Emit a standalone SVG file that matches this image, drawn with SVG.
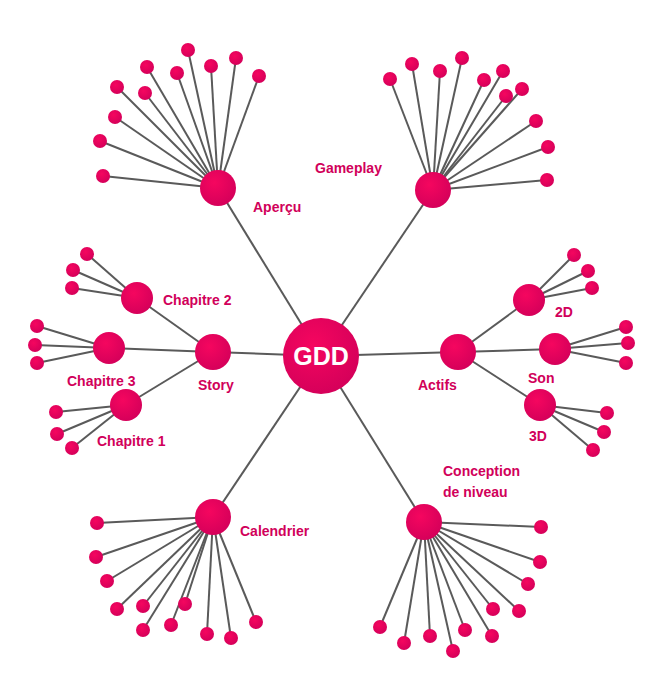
<svg xmlns="http://www.w3.org/2000/svg" width="660" height="700" viewBox="0 0 660 700">
<defs>
<radialGradient id="g" cx="40%" cy="35%" r="65%"><stop offset="0" stop-color="#f5065f"/><stop offset="1" stop-color="#d6005a"/></radialGradient>
<style>
.c line{stroke:#5a5a5a;stroke-width:2}
circle{fill:url(#g)}
text{font-family:"Liberation Sans",Arial,sans-serif;font-weight:bold;font-size:14px;fill:#d1005a}
.t{fill:#fff;font-size:25px;text-anchor:middle}
</style>
</defs>
<rect width="660" height="700" fill="#fff"/>
<g class="c">
<line x1="321" y1="356" x2="218" y2="188"/><line x1="321" y1="356" x2="433" y2="190"/>
<line x1="321" y1="356" x2="213" y2="352"/><line x1="321" y1="356" x2="458" y2="352"/>
<line x1="321" y1="356" x2="213" y2="517"/><line x1="321" y1="356" x2="424" y2="522"/>
<line x1="218" y1="188" x2="188" y2="50"/><line x1="218" y1="188" x2="236" y2="58"/><line x1="218" y1="188" x2="211" y2="66"/><line x1="218" y1="188" x2="147" y2="67"/><line x1="218" y1="188" x2="259" y2="76"/><line x1="218" y1="188" x2="177" y2="73"/><line x1="218" y1="188" x2="117" y2="87"/><line x1="218" y1="188" x2="145" y2="93"/><line x1="218" y1="188" x2="115" y2="117"/><line x1="218" y1="188" x2="100" y2="141"/><line x1="218" y1="188" x2="103" y2="176"/>
<line x1="433" y1="190" x2="390" y2="79"/><line x1="433" y1="190" x2="412" y2="64"/><line x1="433" y1="190" x2="440" y2="71"/><line x1="433" y1="190" x2="462" y2="58"/><line x1="433" y1="190" x2="484" y2="80"/><line x1="433" y1="190" x2="503" y2="71"/><line x1="433" y1="190" x2="506" y2="96"/><line x1="433" y1="190" x2="522" y2="89"/><line x1="433" y1="190" x2="536" y2="121"/><line x1="433" y1="190" x2="548" y2="147"/><line x1="433" y1="190" x2="547" y2="180"/>
<line x1="213" y1="352" x2="137" y2="298"/><line x1="213" y1="352" x2="109" y2="348"/><line x1="213" y1="352" x2="126" y2="405"/>
<line x1="137" y1="298" x2="87" y2="254"/><line x1="137" y1="298" x2="73" y2="270"/><line x1="137" y1="298" x2="72" y2="288"/>
<line x1="109" y1="348" x2="37" y2="326"/><line x1="109" y1="348" x2="35" y2="345"/><line x1="109" y1="348" x2="37" y2="363"/>
<line x1="126" y1="405" x2="56" y2="412"/><line x1="126" y1="405" x2="57" y2="434"/><line x1="126" y1="405" x2="72" y2="448"/>
<line x1="458" y1="352" x2="529" y2="300"/><line x1="458" y1="352" x2="555" y2="349"/><line x1="458" y1="352" x2="540" y2="405"/>
<line x1="529" y1="300" x2="574" y2="255"/><line x1="529" y1="300" x2="588" y2="271"/><line x1="529" y1="300" x2="592" y2="288"/>
<line x1="555" y1="349" x2="626" y2="327"/><line x1="555" y1="349" x2="628" y2="343"/><line x1="555" y1="349" x2="626" y2="363"/>
<line x1="540" y1="405" x2="607" y2="413"/><line x1="540" y1="405" x2="604" y2="432"/><line x1="540" y1="405" x2="593" y2="450"/>
<line x1="213" y1="517" x2="97" y2="523"/><line x1="213" y1="517" x2="96" y2="557"/><line x1="213" y1="517" x2="107" y2="581"/><line x1="213" y1="517" x2="117" y2="609"/><line x1="213" y1="517" x2="143" y2="606"/><line x1="213" y1="517" x2="143" y2="630"/><line x1="213" y1="517" x2="171" y2="625"/><line x1="213" y1="517" x2="185" y2="604"/><line x1="213" y1="517" x2="207" y2="634"/><line x1="213" y1="517" x2="231" y2="638"/><line x1="213" y1="517" x2="256" y2="622"/>
<line x1="424" y1="522" x2="541" y2="527"/><line x1="424" y1="522" x2="540" y2="562"/><line x1="424" y1="522" x2="528" y2="584"/><line x1="424" y1="522" x2="519" y2="611"/><line x1="424" y1="522" x2="493" y2="609"/><line x1="424" y1="522" x2="492" y2="636"/><line x1="424" y1="522" x2="465" y2="630"/><line x1="424" y1="522" x2="453" y2="651"/><line x1="424" y1="522" x2="430" y2="636"/><line x1="424" y1="522" x2="404" y2="643"/><line x1="424" y1="522" x2="380" y2="627"/>
</g>
<g id="leaves">
<circle cx="188" cy="50" r="7"/><circle cx="236" cy="58" r="7"/><circle cx="211" cy="66" r="7"/><circle cx="147" cy="67" r="7"/><circle cx="259" cy="76" r="7"/><circle cx="177" cy="73" r="7"/><circle cx="117" cy="87" r="7"/><circle cx="145" cy="93" r="7"/><circle cx="115" cy="117" r="7"/><circle cx="100" cy="141" r="7"/><circle cx="103" cy="176" r="7"/>
<circle cx="390" cy="79" r="7"/><circle cx="412" cy="64" r="7"/><circle cx="440" cy="71" r="7"/><circle cx="462" cy="58" r="7"/><circle cx="484" cy="80" r="7"/><circle cx="503" cy="71" r="7"/><circle cx="506" cy="96" r="7"/><circle cx="522" cy="89" r="7"/><circle cx="536" cy="121" r="7"/><circle cx="548" cy="147" r="7"/><circle cx="547" cy="180" r="7"/>
<circle cx="87" cy="254" r="7"/><circle cx="73" cy="270" r="7"/><circle cx="72" cy="288" r="7"/>
<circle cx="37" cy="326" r="7"/><circle cx="35" cy="345" r="7"/><circle cx="37" cy="363" r="7"/>
<circle cx="56" cy="412" r="7"/><circle cx="57" cy="434" r="7"/><circle cx="72" cy="448" r="7"/>
<circle cx="574" cy="255" r="7"/><circle cx="588" cy="271" r="7"/><circle cx="592" cy="288" r="7"/>
<circle cx="626" cy="327" r="7"/><circle cx="628" cy="343" r="7"/><circle cx="626" cy="363" r="7"/>
<circle cx="607" cy="413" r="7"/><circle cx="604" cy="432" r="7"/><circle cx="593" cy="450" r="7"/>
<circle cx="97" cy="523" r="7"/><circle cx="96" cy="557" r="7"/><circle cx="107" cy="581" r="7"/><circle cx="117" cy="609" r="7"/><circle cx="143" cy="606" r="7"/><circle cx="143" cy="630" r="7"/><circle cx="171" cy="625" r="7"/><circle cx="185" cy="604" r="7"/><circle cx="207" cy="634" r="7"/><circle cx="231" cy="638" r="7"/><circle cx="256" cy="622" r="7"/>
<circle cx="541" cy="527" r="7"/><circle cx="540" cy="562" r="7"/><circle cx="528" cy="584" r="7"/><circle cx="519" cy="611" r="7"/><circle cx="493" cy="609" r="7"/><circle cx="492" cy="636" r="7"/><circle cx="465" cy="630" r="7"/><circle cx="453" cy="651" r="7"/><circle cx="430" cy="636" r="7"/><circle cx="404" cy="643" r="7"/><circle cx="380" cy="627" r="7"/>
</g>
<g id="gdd"><circle cx="321" cy="356" r="38"/><text class="t" x="321" y="365">GDD</text></g>
<g id="apercu"><circle cx="218" cy="188" r="18"/><text x="253" y="212">Aperçu</text></g>
<g id="gameplay"><circle cx="433" cy="190" r="18"/><text x="315" y="173">Gameplay</text></g>
<g id="story"><circle cx="213" cy="352" r="18"/><text x="198" y="390">Story</text></g>
<g id="ch2"><circle cx="137" cy="298" r="16"/><text x="163" y="305" font-size="13">Chapitre 2</text></g>
<g id="ch3"><circle cx="109" cy="348" r="16"/><text x="67" y="386" font-size="13">Chapitre 3</text></g>
<g id="ch1"><circle cx="126" cy="405" r="16"/><text x="97" y="446" font-size="13">Chapitre 1</text></g>
<g id="actifs"><circle cx="458" cy="352" r="18"/><text x="418" y="390">Actifs</text></g>
<g id="d2"><circle cx="529" cy="300" r="16"/><text x="555" y="317" font-size="13">2D</text></g>
<g id="son"><circle cx="555" cy="349" r="16"/><text x="528" y="383" font-size="13">Son</text></g>
<g id="d3"><circle cx="540" cy="405" r="16"/><text x="529" y="441" font-size="13">3D</text></g>
<g id="cal"><circle cx="213" cy="517" r="18"/><text x="240" y="536">Calendrier</text></g>
<g id="niv"><circle cx="424" cy="522" r="18"/><text x="443" y="476">Conception</text><text x="443" y="497">de niveau</text></g>
</svg>
